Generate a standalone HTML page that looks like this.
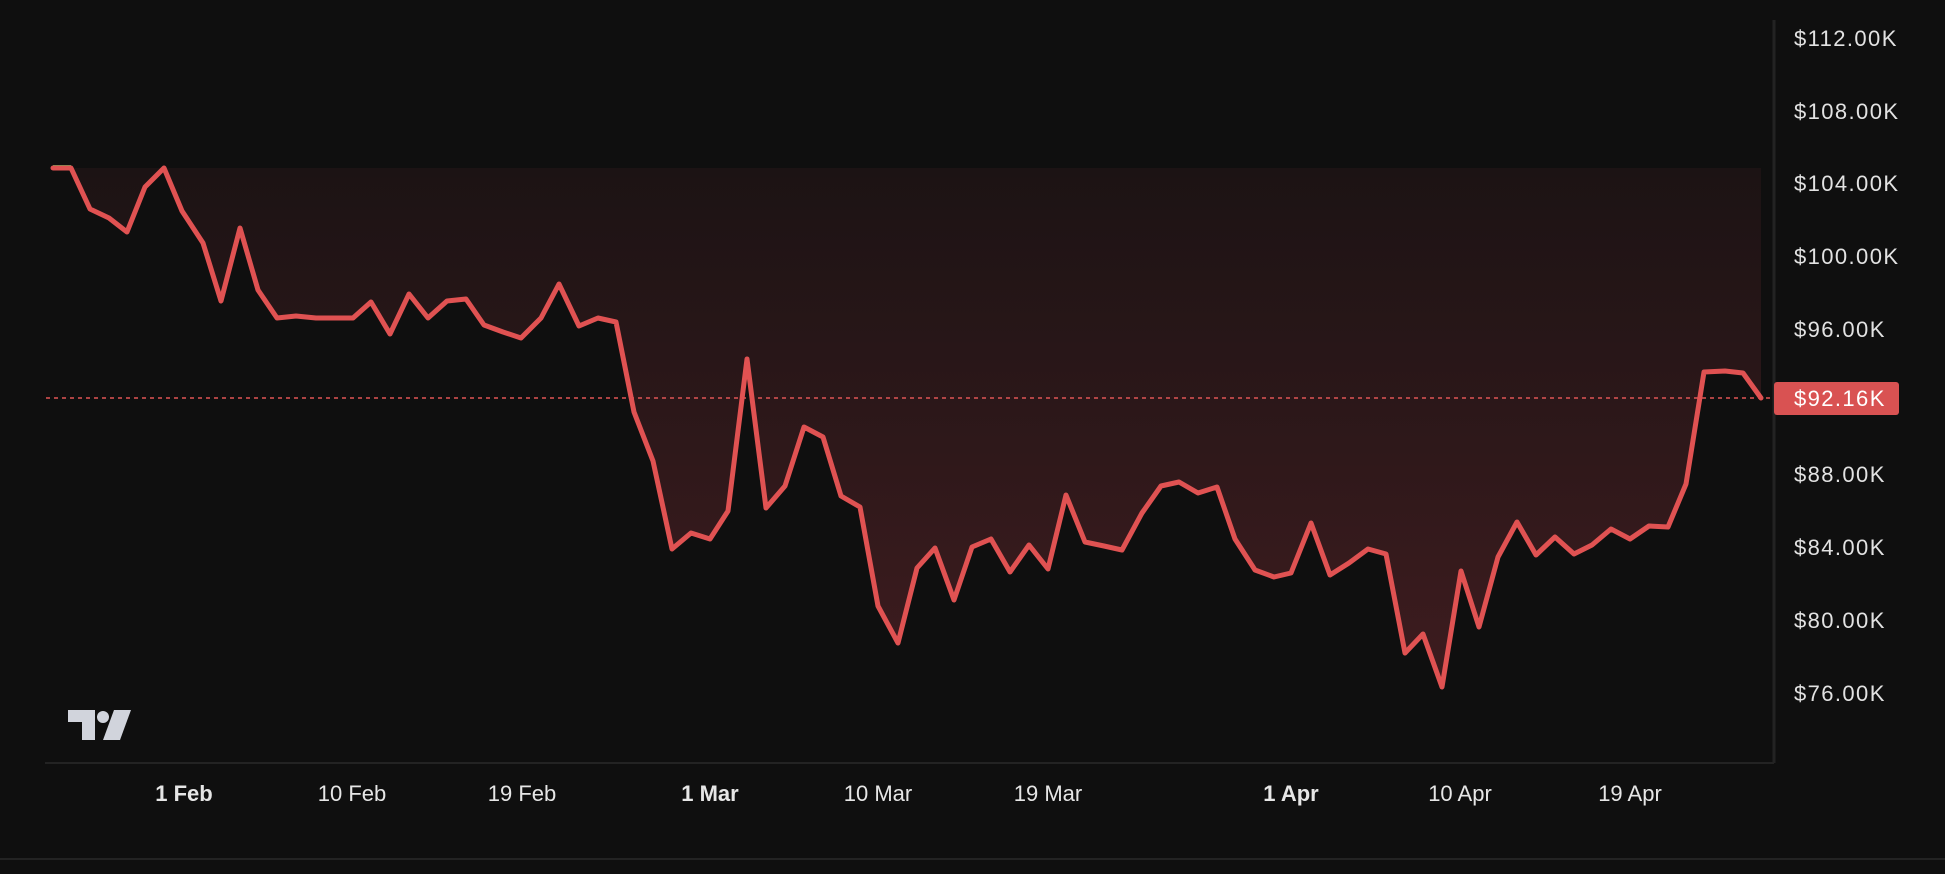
<!DOCTYPE html>
<html><head><meta charset="utf-8"><style>
html,body{margin:0;padding:0;background:#0f0f0f;}
svg{display:block}
text{font-family:"Liberation Sans",sans-serif;}
</style></head><body>
<svg width="1945" height="874" viewBox="0 0 1945 874" xmlns="http://www.w3.org/2000/svg">
<defs>
<linearGradient id="g" x1="0" y1="168" x2="0" y2="690" gradientUnits="userSpaceOnUse">
<stop offset="0" stop-color="#1c1314"/>
<stop offset="1" stop-color="#3e1c1f"/>
</linearGradient>
</defs>
<rect width="1945" height="874" fill="#0f0f0f"/>
<line x1="1774" y1="20" x2="1774" y2="763" stroke="#232323" stroke-width="3"/>
<line x1="45" y1="763" x2="1774" y2="763" stroke="#232323" stroke-width="2"/>
<line x1="0" y1="859" x2="1945" y2="859" stroke="#232323" stroke-width="2"/>
<polygon fill="url(#g)" points="53,168 71,168 90,209 109,218 127,232 145,187 164,168 182,211 203,243 221,301 240,228 258,290 277,318 296,316 316,318 334,318 353,318 371,302 390,334 409,294 428,318 447,301 466,299 484,325 503,332 521,338 541,318 559,284 579,326 598,318 616,322 634,412 653,461 672,549 691,533 710,539 728,511 747,359 766,508 785,486 804,427 823,437 841,496 860,507 878,606 898,643 917,568 935,548 954,600 972,547 991,539 1010,572 1029,545 1048,569 1066,495 1085,542 1104,546 1122,550 1142,513 1161,486 1179,482 1198,493 1217,487 1235,539 1255,570 1274,577 1291,573 1311,523 1330,575 1349,563 1368,549 1386,554 1405,653 1423,634 1442,687 1461,571 1479,627 1498,557 1517,522 1536,555 1555,537 1574,554 1592,545 1611,529 1630,539 1649,526 1668,527 1686,484 1704,372 1725,371 1743,373 1761,398 1761,168"/>
<line x1="46" y1="398" x2="1774" y2="398" stroke="#e05555" stroke-width="1.5" stroke-dasharray="4 4"/>
<line x1="53" y1="166" x2="71" y2="166" stroke="#4caf50" stroke-width="2"/>
<polyline fill="none" stroke="#e05252" stroke-width="5" stroke-linejoin="round" stroke-linecap="round" points="53,168 71,168 90,209 109,218 127,232 145,187 164,168 182,211 203,243 221,301 240,228 258,290 277,318 296,316 316,318 334,318 353,318 371,302 390,334 409,294 428,318 447,301 466,299 484,325 503,332 521,338 541,318 559,284 579,326 598,318 616,322 634,412 653,461 672,549 691,533 710,539 728,511 747,359 766,508 785,486 804,427 823,437 841,496 860,507 878,606 898,643 917,568 935,548 954,600 972,547 991,539 1010,572 1029,545 1048,569 1066,495 1085,542 1104,546 1122,550 1142,513 1161,486 1179,482 1198,493 1217,487 1235,539 1255,570 1274,577 1291,573 1311,523 1330,575 1349,563 1368,549 1386,554 1405,653 1423,634 1442,687 1461,571 1479,627 1498,557 1517,522 1536,555 1555,537 1574,554 1592,545 1611,529 1630,539 1649,526 1668,527 1686,484 1704,372 1725,371 1743,373 1761,398"/>
<g fill="#e2e2e2" font-size="22" letter-spacing="1.4">
<text x="1794" y="46">$112.00K</text>
<text x="1794" y="119">$108.00K</text>
<text x="1794" y="191">$104.00K</text>
<text x="1794" y="264">$100.00K</text>
<text x="1794" y="337">$96.00K</text>
<text x="1794" y="482">$88.00K</text>
<text x="1794" y="555">$84.00K</text>
<text x="1794" y="628">$80.00K</text>
<text x="1794" y="701">$76.00K</text>
</g>
<rect x="1774" y="382" width="125" height="33" rx="3" fill="#d95252"/>
<text x="1794" y="406" font-size="22" letter-spacing="1.4" fill="#ffffff">$92.16K</text>
<g fill="#e6e6e6" font-size="22" text-anchor="middle">
<text x="184" y="801" font-weight="bold">1 Feb</text>
<text x="352" y="801">10 Feb</text>
<text x="522" y="801">19 Feb</text>
<text x="710" y="801" font-weight="bold">1 Mar</text>
<text x="878" y="801">10 Mar</text>
<text x="1048" y="801">19 Mar</text>
<text x="1291" y="801" font-weight="bold">1 Apr</text>
<text x="1460" y="801">10 Apr</text>
<text x="1630" y="801">19 Apr</text>
</g>
<g fill="#d1d4dc">
<polygon points="68,710 95,710 95,740 82,740 82,722 68,722"/>
<circle cx="103" cy="717" r="6"/>
<polygon points="114,710 131,710 120,740 103,740"/>
</g>
</svg>
</body></html>
